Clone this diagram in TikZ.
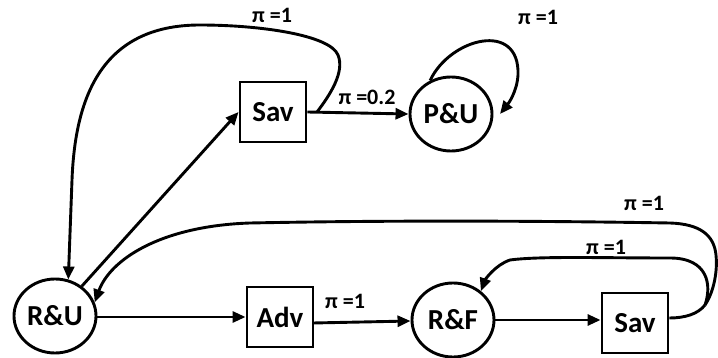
\documentclass[tikz,border=0pt]{standalone}
\usepackage{fontspec}
\setmainfont{Carlito}
\usetikzlibrary{arrows.meta,shapes.geometric}
\begin{document}
\begin{tikzpicture}[x=1pt,y=-1pt,
  conn/.style={draw=black,line width=2.9pt,-{Triangle[length=13pt,width=11pt]}},
  plain/.style={draw=black,line width=2.9pt},
  state/.style={ellipse,draw=black,line width=2.9pt,minimum width=82pt,minimum height=74pt,inner sep=0pt,font=\fontsize{29}{29}\selectfont\bfseries},
  act/.style={rectangle,draw=black,line width=2.9pt,minimum width=66pt,minimum height=60pt,inner sep=0pt,font=\fontsize{29}{29}\selectfont\bfseries},
  lab/.style={inner sep=0pt,font=\fontsize{22}{22}\selectfont\bfseries}]
\fill[white] (0,0) rectangle (718,358);
\useasboundingbox (0,0) rectangle (718,358);

\node[act] (S1) at (273,112) {Sav};
\node[state] (PU) at (451,114) {P\&U};
\node[state] (RU) at (55,316) {R\&U};
\node[act] (Adv) at (280,317) {Adv};
\node[state] (RF) at (453,320) {R\&F};
\node[act] (S2) at (635,323) {Sav};

\coordinate (tapA) at (317,112);
\coordinate (puend) at (500,114);
\coordinate (advout) at (313,323);
\coordinate (jn) at (705,305);

% labels
\node[lab] (l1) at (272,15) {π =1};
\node[lab] (l2) at (367,97) {π =0.2};
\node[lab] (l3) at (538,17) {π =1};
\node[lab] (l4) at (345,301) {π =1};
\node[lab] (l5) at (644,203) {π =1};
\node[lab] (l6) at (606,247) {π =1};

% top part
\draw[conn] (RU) -- (S1.west);
\draw[conn] (S1.east) -- (PU.west);
\draw[conn] (tapA) .. controls (330,95) and (345,72) .. (338,55)
  .. controls (330,35) and (260,25) .. (200,25)
  .. controls (100,25) and (75,100) .. (72,180) -- (RU.70);
\draw[conn] (PU.122) .. controls (450,38) and (520,20) .. (518,75)
  .. controls (517,92) and (508,104) .. (puend);

% bottom part
\draw[conn] (RU.east |- Adv) -- (Adv.west);
\draw[conn] (advout) -- (RF.west |- 0,321);
\draw[conn] (RF.east |- 0,320) -- (S2.west |- 0,320);
\draw[plain] (S2.east |- 0,318) .. controls (685,318) and (698,314) .. (jn);
\draw[conn] (jn) .. controls (712,285) and (708,258) .. (670,258)
  .. controls (600,258) and (540,256) .. (510,260)
  .. controls (495,265) and (485,280) .. (RF.46);
\draw[conn] (jn) .. controls (712,295) and (718,275) .. (716,255)
  .. controls (714,235) and (700,224) .. (670,223)
  .. controls (550,221) and (400,220) .. (250,223)
  .. controls (160,226) and (110,260) .. (RU.19);
\end{tikzpicture}
\end{document}
